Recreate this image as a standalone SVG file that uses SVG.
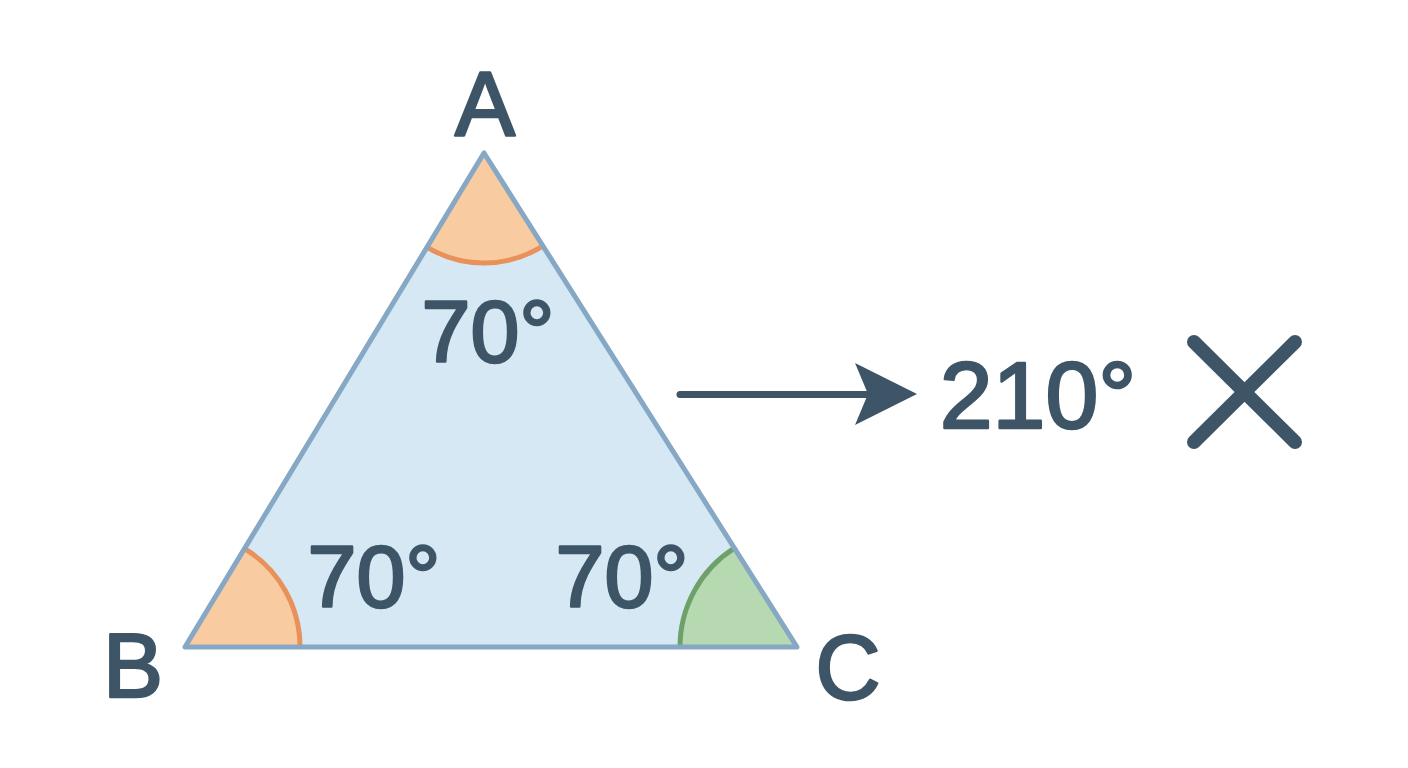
<svg xmlns="http://www.w3.org/2000/svg" width="1408" height="768" viewBox="0 0 1408 768">
<style>
.lbl{font-family:"Liberation Sans",Arial,sans-serif;fill:#3d5566;stroke:#3d5566;stroke-width:2.6;stroke-linejoin:round;text-anchor:middle}
.big{font-size:90px}
.ang{font-size:88px}
.wedgeO{fill:#f9cba0;stroke:none}
.wedgeG{fill:#b7d9b1;stroke:none}
.arcO{fill:none;stroke:#e8915a;stroke-width:5}
.arcG{fill:none;stroke:#6ea16a;stroke-width:5}
</style>
<rect width="1408" height="768" fill="#ffffff"/>
<g id="triangle">
  <polygon points="484,153 185,647 797,647" fill="#d5e8f4" stroke="none"/>
  <path class="wedgeO" d="M484,153 L427,247.1 A110,110 0 0 0 542.9,245.9 Z"/>
  <path class="arcO" d="M427,247.1 A110,110 0 0 0 542.9,245.9"/>
  <path class="wedgeO" d="M185,647 L300,647 A115,115 0 0 0 244.5,548.6 Z"/>
  <path class="arcO" d="M300,647 A115,115 0 0 0 244.5,548.6"/>
  <path class="wedgeG" d="M797,647 L680,647 A117,117 0 0 1 734.4,548.2 Z"/>
  <path class="arcG" d="M680,647 A117,117 0 0 1 734.4,548.2"/>
  <polygon points="484,153 185,647 797,647" fill="none" stroke="#86a8c4" stroke-width="5" stroke-linejoin="round"/>
</g>
<g id="vertex-A"><text class="lbl big" x="485" y="135">A</text></g>
<g id="vertex-B"><text class="lbl big" x="133" y="697">B</text></g>
<g id="vertex-C"><text class="lbl big" x="848" y="699">C</text></g>
<g id="angle-A"><text class="lbl ang" x="488" y="362">70°</text></g>
<g id="angle-B"><text class="lbl ang" x="374" y="607">70°</text></g>
<g id="angle-C"><text class="lbl ang" x="622" y="607">70°</text></g>
<g id="connectors">
  <line x1="680" y1="394.5" x2="872" y2="394.5" stroke="#3d5566" stroke-width="7" stroke-linecap="round"/>
  <polygon points="917,394 855,363 868,394 855,425" fill="#3d5566"/>
</g>
<g id="result"><text class="lbl" x="1038" y="428" style="font-size:95px">210°</text></g>
<g id="cross">
  <path d="M1194,342 L1295,442 M1295,342 L1194,442" stroke="#3d5566" stroke-width="14" stroke-linecap="round" fill="none"/>
</g>
</svg>
